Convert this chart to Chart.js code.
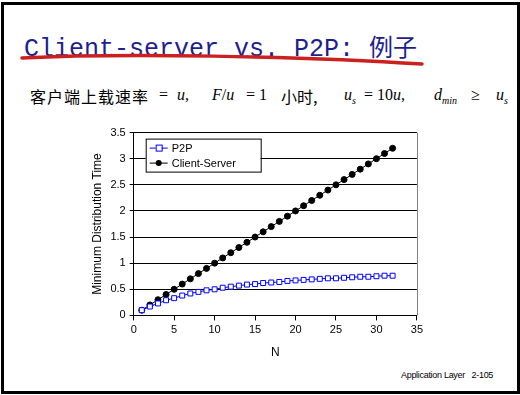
<!DOCTYPE html>
<html>
<head>
<meta charset="utf-8">
<script src="https://cdn.jsdelivr.net/npm/chart.js@4"></script>
<style>
  body { margin: 0; background: #fff; }
  #slide { position: relative; width: 520px; height: 395px; overflow: hidden; }
  #frame { position: absolute; left: 1px; top: 2px; width: 513px; height: 386px; border: 3px solid #000; }
  #title { position: absolute; left: 24px; top: 28px; font: 25px "Liberation Mono", monospace; color: #1e1e8c; white-space: nowrap; }
  #title .cjk { font-family: "Noto Sans CJK SC"; font-size: 24px; }
  #swoosh { position: absolute; left: 0; top: 0; }
  #sub { position: absolute; left: 0; top: 0; width: 520px; height: 120px; font: 16px "Liberation Serif", serif; color: #000; }
  #sub span { position: absolute; top: 86px; white-space: nowrap; }
  #sub .cjk { font-family: "Noto Sans CJK SC"; font-size: 16px; top: 84px; }
  #sub i { font-style: italic; }
  #sub sub { font-size: 10px; }
  #foot { position: absolute; left: 401px; top: 370px; font: 9px "Liberation Sans", sans-serif; letter-spacing: -0.3px; }
  #wrap { position: absolute; left: 86px; top: 122px; width: 340px; height: 242px; }
</style>
</head>
<body>
<div id="slide">
  <div id="frame"></div>
  <div id="title">Client-server vs. P2P: <span class="cjk">例子</span></div>
  <svg id="swoosh" width="520" height="80">
    <path d="M22 58 C 120 53, 300 56, 422 64" stroke="#cc1f1f" stroke-width="3.5" fill="none" stroke-linecap="round"/>
  </svg>
  <div id="sub">
    <span class="cjk" style="left:30px; letter-spacing:1px">客户端上载速率</span>
    <span style="left:159px">=</span>
    <span style="left:177px"><i>u</i>,</span>
    <span style="left:212px"><i>F</i>/<i>u</i></span>
    <span style="left:246px">= 1</span>
    <span class="cjk" style="left:281px">小时,</span>
    <span style="left:344px"><i>u<sub>s</sub></i></span>
    <span style="left:364px">= 10<i>u</i>,</span>
    <span style="left:434px"><i>d<sub>min</sub></i></span>
    <span style="left:471px">&ge;</span>
    <span style="left:496px"><i>u<sub>s</sub></i></span>
  </div>
  <div id="wrap"><canvas id="myChart"></canvas></div>
  <div id="foot">Application Layer &nbsp;&nbsp;2-105</div>
</div>
<script>
const nValues = [1,2,3,4,5,6,7,8,9,10,11,12,13,14,15,16,17,18,19,20,21,22,23,24,25,26,27,28,29,30,31,32];
const p2pTimes = [0.1,0.17,0.23,0.29,0.33,0.38,0.42,0.45,0.48,0.5,0.53,0.55,0.57,0.59,0.6,0.62,0.63,0.64,0.66,0.67,0.68,0.69,0.7,0.71,0.71,0.72,0.73,0.74,0.74,0.75,0.76,0.76];
const csTimes = [0.1,0.2,0.3,0.4,0.5,0.6,0.7,0.8,0.9,1.0,1.1,1.2,1.3,1.4,1.5,1.6,1.7,1.8,1.9,2.0,2.1,2.2,2.3,2.4,2.5,2.6,2.7,2.8,2.9,3.0,3.1,3.2];
const xTicks = [0,5,10,15,20,25,30,35];
const yTicks = [0,0.5,1,1.5,2,2.5,3,3.5];

const font = { family: '"Liberation Sans", Arial, sans-serif', size: 11 };

// legend box drawn inside the plot, plus grey right border
const boxLegend = {
  id: 'boxLegend',
  afterDraw(chart) {
    const c = chart.ctx, a = chart.chartArea;
    c.save();
    c.strokeStyle = '#808080';
    c.lineWidth = 1;
    c.beginPath();
    c.moveTo(Math.round(a.right) + 0.5, a.top);
    c.lineTo(Math.round(a.right) + 0.5, a.bottom);
    c.stroke();

    const x0 = a.left + 12, y0 = a.top + 6, w = 115, h = 33;
    c.fillStyle = '#fff';
    c.fillRect(x0, y0, w, h);
    c.strokeStyle = '#000';
    c.strokeRect(x0 + 0.5, y0 + 0.5, w, h);
    c.font = '11px "Liberation Sans", Arial, sans-serif';
    c.textBaseline = 'middle';
    chart.data.datasets.forEach((ds, i) => {
      const yy = y0 + 9 + i * 15;
      c.strokeStyle = ds.borderColor;
      c.beginPath();
      c.moveTo(x0 + 4, yy + 0.5);
      c.lineTo(x0 + 22, yy + 0.5);
      c.stroke();
      if (ds.pointStyle === 'rect') {
        c.fillStyle = '#fff';
        c.fillRect(x0 + 10, yy - 3, 6, 6);
        c.strokeRect(x0 + 10.5, yy - 2.5, 6, 6);
      } else {
        c.fillStyle = '#000';
        c.beginPath();
        c.arc(x0 + 13, yy + 0.5, 3, 0, Math.PI * 2);
        c.fill();
      }
      c.fillStyle = '#000';
      c.fillText(ds.label, x0 + 26, yy + 1);
    });
    c.restore();
  }
};

const data = {
  datasets: [{
    label: 'P2P',
    data: nValues.map((n, i) => ({ x: n, y: p2pTimes[i] })),
    borderColor: '#0000ff',
    backgroundColor: '#ffffff',
    borderWidth: 1,
    pointStyle: 'rect',
    pointRadius: 3.5,
    pointBorderColor: '#0000ff',
    pointBackgroundColor: '#ffffff',
    pointBorderWidth: 1
  }, {
    label: 'Client-Server',
    data: nValues.map((n, i) => ({ x: n, y: csTimes[i] })),
    borderColor: '#000000',
    backgroundColor: '#000000',
    borderWidth: 1,
    pointStyle: 'circle',
    pointRadius: 3,
    pointBackgroundColor: '#000000',
    pointBorderColor: '#000000'
  }]
};

const config = {
  type: 'line',
  data: data,
  options: {
    responsive: true,
    maintainAspectRatio: false,
    animation: false,
    layout: { padding: { top: 6, right: 8 } },
    plugins: { legend: { display: false }, tooltip: { enabled: false } },
    scales: {
      x: {
        type: 'linear',
        min: 0, max: 35,
        afterBuildTicks: s => { s.ticks = xTicks.map(v => ({ value: v })); },
        ticks: { color: '#000', font: font, padding: 3, callback: v => String(v) },
        grid: { drawOnChartArea: false, drawTicks: true, tickLength: 5, color: '#000' },
        border: { color: '#000' },
        title: { display: true, text: 'N', color: '#000', font: { family: font.family, size: 12 }, padding: { top: 6 } }
      },
      y: {
        min: 0, max: 3.5,
        afterBuildTicks: s => { s.ticks = yTicks.map(v => ({ value: v })); },
        ticks: { color: '#000', font: font, padding: 4, callback: v => String(v) },
        grid: { color: '#000', drawTicks: true, tickLength: 4 },
        border: { color: '#000' },
        title: { display: true, text: 'Minimum Distribution Time', color: '#000', font: { family: font.family, size: 12 }, padding: { bottom: 2 } }
      }
    }
  },
  plugins: [boxLegend]
};

const myChart = new Chart(document.getElementById('myChart'), config);
</script>
</body>
</html>
